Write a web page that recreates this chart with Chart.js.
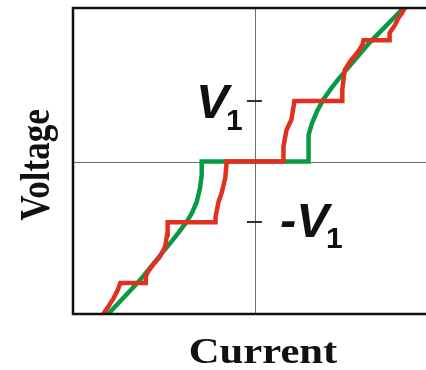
<!DOCTYPE html>
<html>
<head>
<meta charset="utf-8">
<script src="https://cdn.jsdelivr.net/npm/chart.js@4.4.1/dist/chart.umd.min.js"></script>
<style>
  html, body { margin: 0; padding: 0; background: #fff; }
  canvas { display: block; }
</style>
</head>
<body>
<canvas id="chart" width="426" height="370"></canvas>
<script>
// current (x) and voltage (y), voltage in units of V1
var redCurrent = [-2.50, -2.42, -2.33, -2.26, -2.22, -1.80, -1.80, -1.76, -1.68, -1.57, -1.48, -1.45, -1.44,
  -0.65, -0.65, -0.60, -0.55, -0.49, -0.47, -0.47,
  0.47, 0.47, 0.52, 0.60, 0.64, 0.65,
  1.44, 1.44, 1.46, 1.48, 1.57, 1.70, 1.77, 1.79,
  2.22, 2.22, 2.31, 2.36, 2.42, 2.47];
var redVoltage = [-2.51, -2.39, -2.25, -2.11, -2.0, -2.0, -1.89, -1.81, -1.70, -1.57, -1.40, -1.21, -1.0,
  -1.0, -0.91, -0.66, -0.52, -0.27, -0.05, 0,
  0, 0.25, 0.52, 0.69, 0.93, 1.0,
  1.0, 1.18, 1.35, 1.51, 1.65, 1.81, 1.92, 2.0,
  2.0, 2.12, 2.25, 2.36, 2.44, 2.53];

var greenCurrent = [-2.42, -1.92, -1.37, -1.26, -1.125, -1.04, -0.96, -0.906, -0.878, -0.878,
  0.878, 0.878, 0.89, 0.94, 1.02, 1.125, 1.26, 1.37, 1.89, 2.45];
var greenVoltage = [-2.51, -1.98, -1.31, -1.17, -0.99, -0.85, -0.66, -0.44, -0.22, 0,
  0, 0.22, 0.44, 0.63, 0.82, 1.02, 1.21, 1.35, 1.96, 2.53];

var voltageTicks = [1, -1];
var tickLabelMain = ['V', '-V'];
var tickLabelSub = ['1', '1'];

function toPoints(xs, ys) {
  return xs.map(function (x, i) { return { x: x, y: ys[i] }; });
}

// horizontally stretched text, like the original picture
function stretchText(ctx, text, x, y, rotate) {
  ctx.save();
  ctx.translate(x, y);
  ctx.scale(1.22, 1);
  if (rotate) ctx.rotate(-Math.PI / 2);
  ctx.fillText(text, 0, 0);
  ctx.restore();
}

var framePlugin = {
  id: 'frame',
  beforeDatasetsDraw: function (chart) {
    var ctx = chart.ctx;
    var a = chart.chartArea;
    var xs = chart.scales.x, ys = chart.scales.y;
    var x0 = xs.getPixelForValue(0), y0 = ys.getPixelForValue(0);
    ctx.save();
    ctx.strokeStyle = '#6e6e6e';
    ctx.lineWidth = 1;
    ctx.beginPath();
    ctx.moveTo(Math.round(x0) + 0.5, a.top);
    ctx.lineTo(Math.round(x0) + 0.5, a.bottom);
    ctx.moveTo(a.left, Math.round(y0) + 0.5);
    ctx.lineTo(a.right, Math.round(y0) + 0.5);
    ctx.stroke();
    ctx.strokeStyle = '#333';
    ctx.lineWidth = 2;
    ctx.beginPath();
    voltageTicks.forEach(function (v) {
      var ty = Math.round(ys.getPixelForValue(v));
      ctx.moveTo(x0 - 8, ty);
      ctx.lineTo(x0 + 7, ty);
    });
    ctx.stroke();
    ctx.restore();
  },
  afterDraw: function (chart) {
    var ctx = chart.ctx;
    var a = chart.chartArea;
    var xs = chart.scales.x, ys = chart.scales.y;
    var x0 = xs.getPixelForValue(0);
    ctx.save();
    ctx.strokeStyle = '#111';
    ctx.lineWidth = 2.5;
    ctx.beginPath();
    ctx.moveTo(a.right, a.top);
    ctx.lineTo(a.left, a.top);
    ctx.lineTo(a.left, a.bottom);
    ctx.lineTo(a.right, a.bottom);
    ctx.stroke();

    ctx.fillStyle = '#111';
    ctx.textAlign = 'left';
    ctx.textBaseline = 'alphabetic';
    // V1 labels
    var pos = ys.getPixelForValue(voltageTicks[0]);
    ctx.font = 'italic bold 49px "Liberation Sans", Arial, sans-serif';
    ctx.fillText(tickLabelMain[0], x0 - 59, pos + 17);
    ctx.font = 'bold 30px "Liberation Sans", Arial, sans-serif';
    ctx.fillText(tickLabelSub[0], x0 - 29, pos + 29);
    var neg = ys.getPixelForValue(voltageTicks[1]);
    ctx.font = 'italic bold 49px "Liberation Sans", Arial, sans-serif';
    ctx.fillText(tickLabelMain[1], x0 + 25, neg + 15);
    ctx.font = 'bold 30px "Liberation Sans", Arial, sans-serif';
    ctx.fillText(tickLabelSub[1], x0 + 71, neg + 26);

    // axis titles
    ctx.font = 'bold 35px "Liberation Serif", "Times New Roman", serif';
    ctx.textAlign = 'center';
    stretchText(ctx, 'Current', 263, 363, false);
    stretchText(ctx, 'Voltage', 49, 165, true);
    ctx.restore();
  }
};

var ctx = document.getElementById('chart').getContext('2d');
var chart = new Chart(ctx, {
  type: 'line',
  data: {
    datasets: [
      {
        label: 'red',
        data: toPoints(redCurrent, redVoltage),
        borderColor: '#e2301e',
        borderWidth: 4.5,
        borderJoinStyle: 'miter',
        pointRadius: 0,
        tension: 0,
        fill: false,
        order: 0
      },
      {
        label: 'green',
        data: toPoints(greenCurrent, greenVoltage),
        borderColor: '#079a45',
        borderWidth: 4.5,
        borderJoinStyle: 'miter',
        pointRadius: 0,
        tension: 0,
        fill: false,
        order: 1
      }
    ]
  },
  options: {
    responsive: false,
    animation: false,
    devicePixelRatio: 1,
    layout: { padding: { left: 73, top: 8, right: 0, bottom: 56 } },
    scales: {
      x: { type: 'linear', min: -3.0, max: 2.82, display: false },
      y: { type: 'linear', min: -2.51, max: 2.53, display: false }
    },
    plugins: {
      legend: { display: false },
      tooltip: { enabled: false }
    }
  },
  plugins: [framePlugin]
});
</script>
</body>
</html>
